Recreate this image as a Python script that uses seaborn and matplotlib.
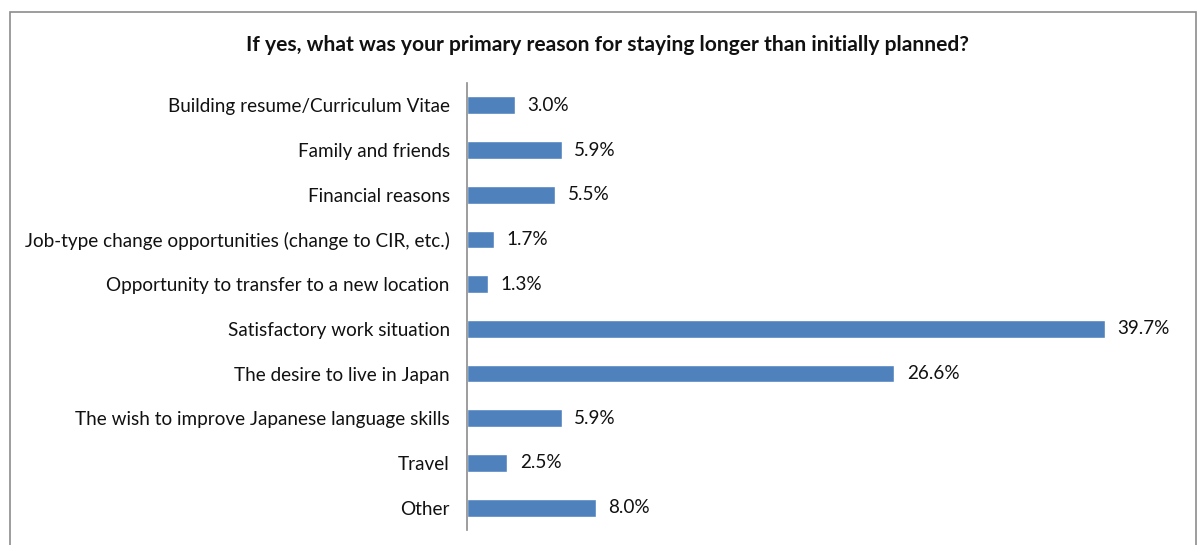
import matplotlib
matplotlib.use("Agg")
import matplotlib.pyplot as plt
import seaborn as sns
import pandas as pd
from matplotlib.patches import Rectangle

categories = [
    "Building resume/Curriculum Vitae",
    "Family and friends",
    "Financial reasons",
    "Job-type change opportunities (change to CIR, etc.)",
    "Opportunity to transfer to a new location",
    "Satisfactory work situation",
    "The desire to live in Japan",
    "The wish to improve Japanese language skills",
    "Travel",
    "Other",
]
values = [3.0, 5.9, 5.5, 1.7, 1.3, 39.7, 26.6, 5.9, 2.5, 8.0]
title = "If yes, what was your primary reason for staying longer than initially planned?"

sns.set_theme(style="white")
plt.rcParams["font.family"] = ["Lato", "DejaVu Sans"]

df = pd.DataFrame({"reason": categories, "pct": values})

W, H = 1198, 545
fig = plt.figure(figsize=(W / 100, H / 100), dpi=100)
ax = fig.add_axes([467 / W, 1 - 530 / H, (1190 - 467) / W, (530 - 83) / H])

sns.barplot(data=df, x="pct", y="reason", orient="h", color="#4f81bd",
            saturation=1, width=0.4, ax=ax)

ax.set_xlim(0, 45)
ax.set_ylim(len(categories) - 0.5, -0.5)
ax.set_xlabel("")
ax.set_ylabel("")
ax.set_xticks([])
for s in ["top", "right", "bottom"]:
    ax.spines[s].set_visible(False)
ax.spines["left"].set_color("#8c8c8c")
ax.spines["left"].set_linewidth(1.2)
ax.tick_params(axis="y", length=0, pad=12.5, labelsize=13.6, labelcolor="#111111")

for i, v in enumerate(values):
    ax.annotate(f"{v:.1f}%", xy=(v, i), xytext=(9, 0), textcoords="offset points",
                va="center", ha="left", fontsize=13.6, color="#111111")

fig.text(608 / W, 1 - 45 / H, title, ha="center", va="center",
         fontsize=15.1, fontweight="bold", color="#111111")

fig.patches.append(Rectangle((10 / W, -0.05), (1196 - 10) / W, 1 - 12 / H + 0.05,
                             transform=fig.transFigure, fill=False,
                             edgecolor="#8c8c8c", linewidth=1.2))

fig.savefig("out.png", dpi=100, facecolor="white")
